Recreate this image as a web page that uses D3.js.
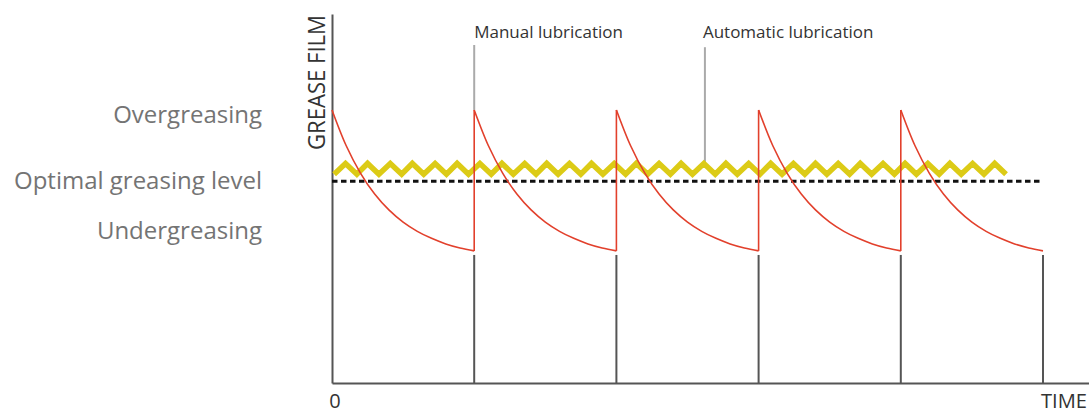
<!DOCTYPE html>
<html><head><meta charset="utf-8">
<script src="https://cdn.jsdelivr.net/npm/d3@7"></script>
<style>
html,body{margin:0;padding:0;background:#fff;overflow:hidden;}
svg{display:block;}
text{font-family:"Open Sans","DejaVu Sans",sans-serif;}
</style></head>
<body>
<svg id="chart" width="1089" height="414"></svg>
<script>
// ---- data (time in % of chart span, grease film level in % of axis height) ----
const cycleStarts = [0, 20, 40, 60, 80];            // manual lubrication events
const eventLines = [20, 40, 60, 80, 100];            // vertical markers on the time axis
const decayFrac  = [0, 0.1, 0.2, 0.3, 0.4, 0.5, 0.6, 0.7, 0.8, 0.9, 1.0];
const decayLevel = [74.0, 64.3, 56.9, 51.2, 46.9, 43.6, 41.1, 39.2, 37.7, 36.6, 35.8];
const cycleLength = 20;
const optimalLevel = 54.7;
const optimalSpan = [0, 99.6];
const autoTimes = [0.3,1.9,3.5,5.0,6.6,8.2,9.8,11.3,12.9,14.5,16.1,17.6,19.2,20.8,22.4,23.9,25.5,27.1,28.7,30.2,
  31.8,33.4,35.0,36.5,38.1,39.7,41.3,42.8,44.4,46.0,47.6,49.1,50.7,52.3,53.9,55.4,57.0,58.6,60.2,61.7,
  63.3,64.9,66.5,68.0,69.6,71.2,72.8,74.3,75.9,77.5,79.1,80.6,82.2,83.8,85.4,86.9,88.5,90.1,91.7,93.2,94.8];
const autoLow = 56.6, autoHigh = 59.5;
const eventLineTop = 34.7;
const levelLabels = ["Overgreasing", "Optimal greasing level", "Undergreasing"];
const levelLabelY = [70.5, 52.6, 39.0];
const annotations = ["Manual lubrication", "Automatic lubrication"];
const annotationX = [20, 52.45];
const annotationLine = [[74.0, 91.6], [59.0, 91.0]];
const xTickLabels = ["0", "TIME"];
const yAxisTitle = "GREASE FILM";

// ---- scales ----
const svg = d3.select("#chart");
const x = d3.scaleLinear().domain([0, 100]).range([332, 1043]);
const xAxisScale = d3.scaleLinear().domain([0, 106.5]).range([332, 1089]);
const y = d3.scaleLinear().domain([0, 100]).range([383, 14]);

// axes (lines only)
svg.append("g").attr("transform", "translate(0,383)")
  .call(d3.axisBottom(xAxisScale).tickValues([]).tickSizeOuter(0))
  .call(g => g.select(".domain").attr("stroke", "#555").attr("stroke-width", 2));
svg.append("g").attr("transform", "translate(332,0)")
  .call(d3.axisLeft(y).tickValues([]).tickSizeOuter(0))
  .call(g => g.select(".domain").attr("stroke", "#555").attr("stroke-width", 2));

// event vertical lines
svg.append("g").selectAll("line").data(eventLines).join("line")
  .attr("x1", d => x(d)).attr("x2", d => x(d))
  .attr("y1", y(eventLineTop)).attr("y2", y(0))
  .attr("stroke", "#555").attr("stroke-width", 2);

// annotation leader lines
svg.append("g").selectAll("line").data(annotationX).join("line")
  .attr("x1", d => x(d)).attr("x2", d => x(d))
  .attr("y1", (d, i) => y(annotationLine[i][0])).attr("y2", (d, i) => y(annotationLine[i][1]))
  .attr("stroke", "#aaa").attr("stroke-width", 2);

// optimal dotted line
svg.append("line")
  .attr("x1", x(optimalSpan[0])).attr("x2", x(optimalSpan[1]))
  .attr("y1", y(optimalLevel)).attr("y2", y(optimalLevel))
  .attr("stroke", "#111").attr("stroke-width", 3)
  .attr("stroke-dasharray", "5.5,3.5");

// automatic lubrication zigzag
const zig = autoTimes.map((t, i) => [t, i % 2 === 0 ? autoLow : autoHigh]);
svg.append("path").datum(zig)
  .attr("d", d3.line().x(d => x(d[0])).y(d => y(d[1])))
  .attr("fill", "none").attr("stroke", "#dccb16").attr("stroke-width", 5.5)
  .attr("stroke-linejoin", "miter");

// manual lubrication decay curves
const red = "#e2402c";
const lineGen = d3.line().x(d => x(d[0])).y(d => y(d[1])).curve(d3.curveCatmullRom);
svg.append("g").selectAll("path").data(cycleStarts).join("path")
  .attr("d", s => lineGen(decayFrac.map((f, i) => [s + f * cycleLength, decayLevel[i]])))
  .attr("fill", "none").attr("stroke", red).attr("stroke-width", 1.6);
svg.append("g").selectAll("line").data(cycleStarts.slice(1)).join("line")
  .attr("x1", d => x(d)).attr("x2", d => x(d))
  .attr("y1", y(decayLevel[decayLevel.length - 1])).attr("y2", y(decayLevel[0]))
  .attr("stroke", red).attr("stroke-width", 1.6);

// left level labels
svg.append("g").selectAll("text").data(levelLabels).join("text")
  .attr("x", 262).attr("y", (d, i) => y(levelLabelY[i]))
  .attr("text-anchor", "end").attr("font-size", 24).attr("fill", "#747474")
  .text(d => d);

// annotations
svg.append("g").selectAll("text").data(annotations).join("text")
  .attr("y", 38)
  .attr("x", (d, i) => x(annotationX[i]) + (i === 0 ? 0 : -2))
  .attr("font-size", 17).attr("fill", "#333")
  .text(d => d);

// axis titles / tick labels
svg.append("text").attr("x", x(0) + 3).attr("y", 408)
  .attr("text-anchor", "middle").attr("font-size", 20).attr("fill", "#333").text(xTickLabels[0]);
svg.append("text").attr("x", 1041).attr("y", 408)
  .attr("font-size", 20).attr("fill", "#333")
  .attr("textLength", 46).attr("lengthAdjust", "spacingAndGlyphs")
  .text(xTickLabels[1]);
svg.append("text")
  .attr("transform", "translate(325,150) rotate(-90)")
  .attr("font-size", 23).attr("fill", "#333")
  .attr("textLength", 135).attr("lengthAdjust", "spacingAndGlyphs")
  .text(yAxisTitle);
</script>
</body></html>
